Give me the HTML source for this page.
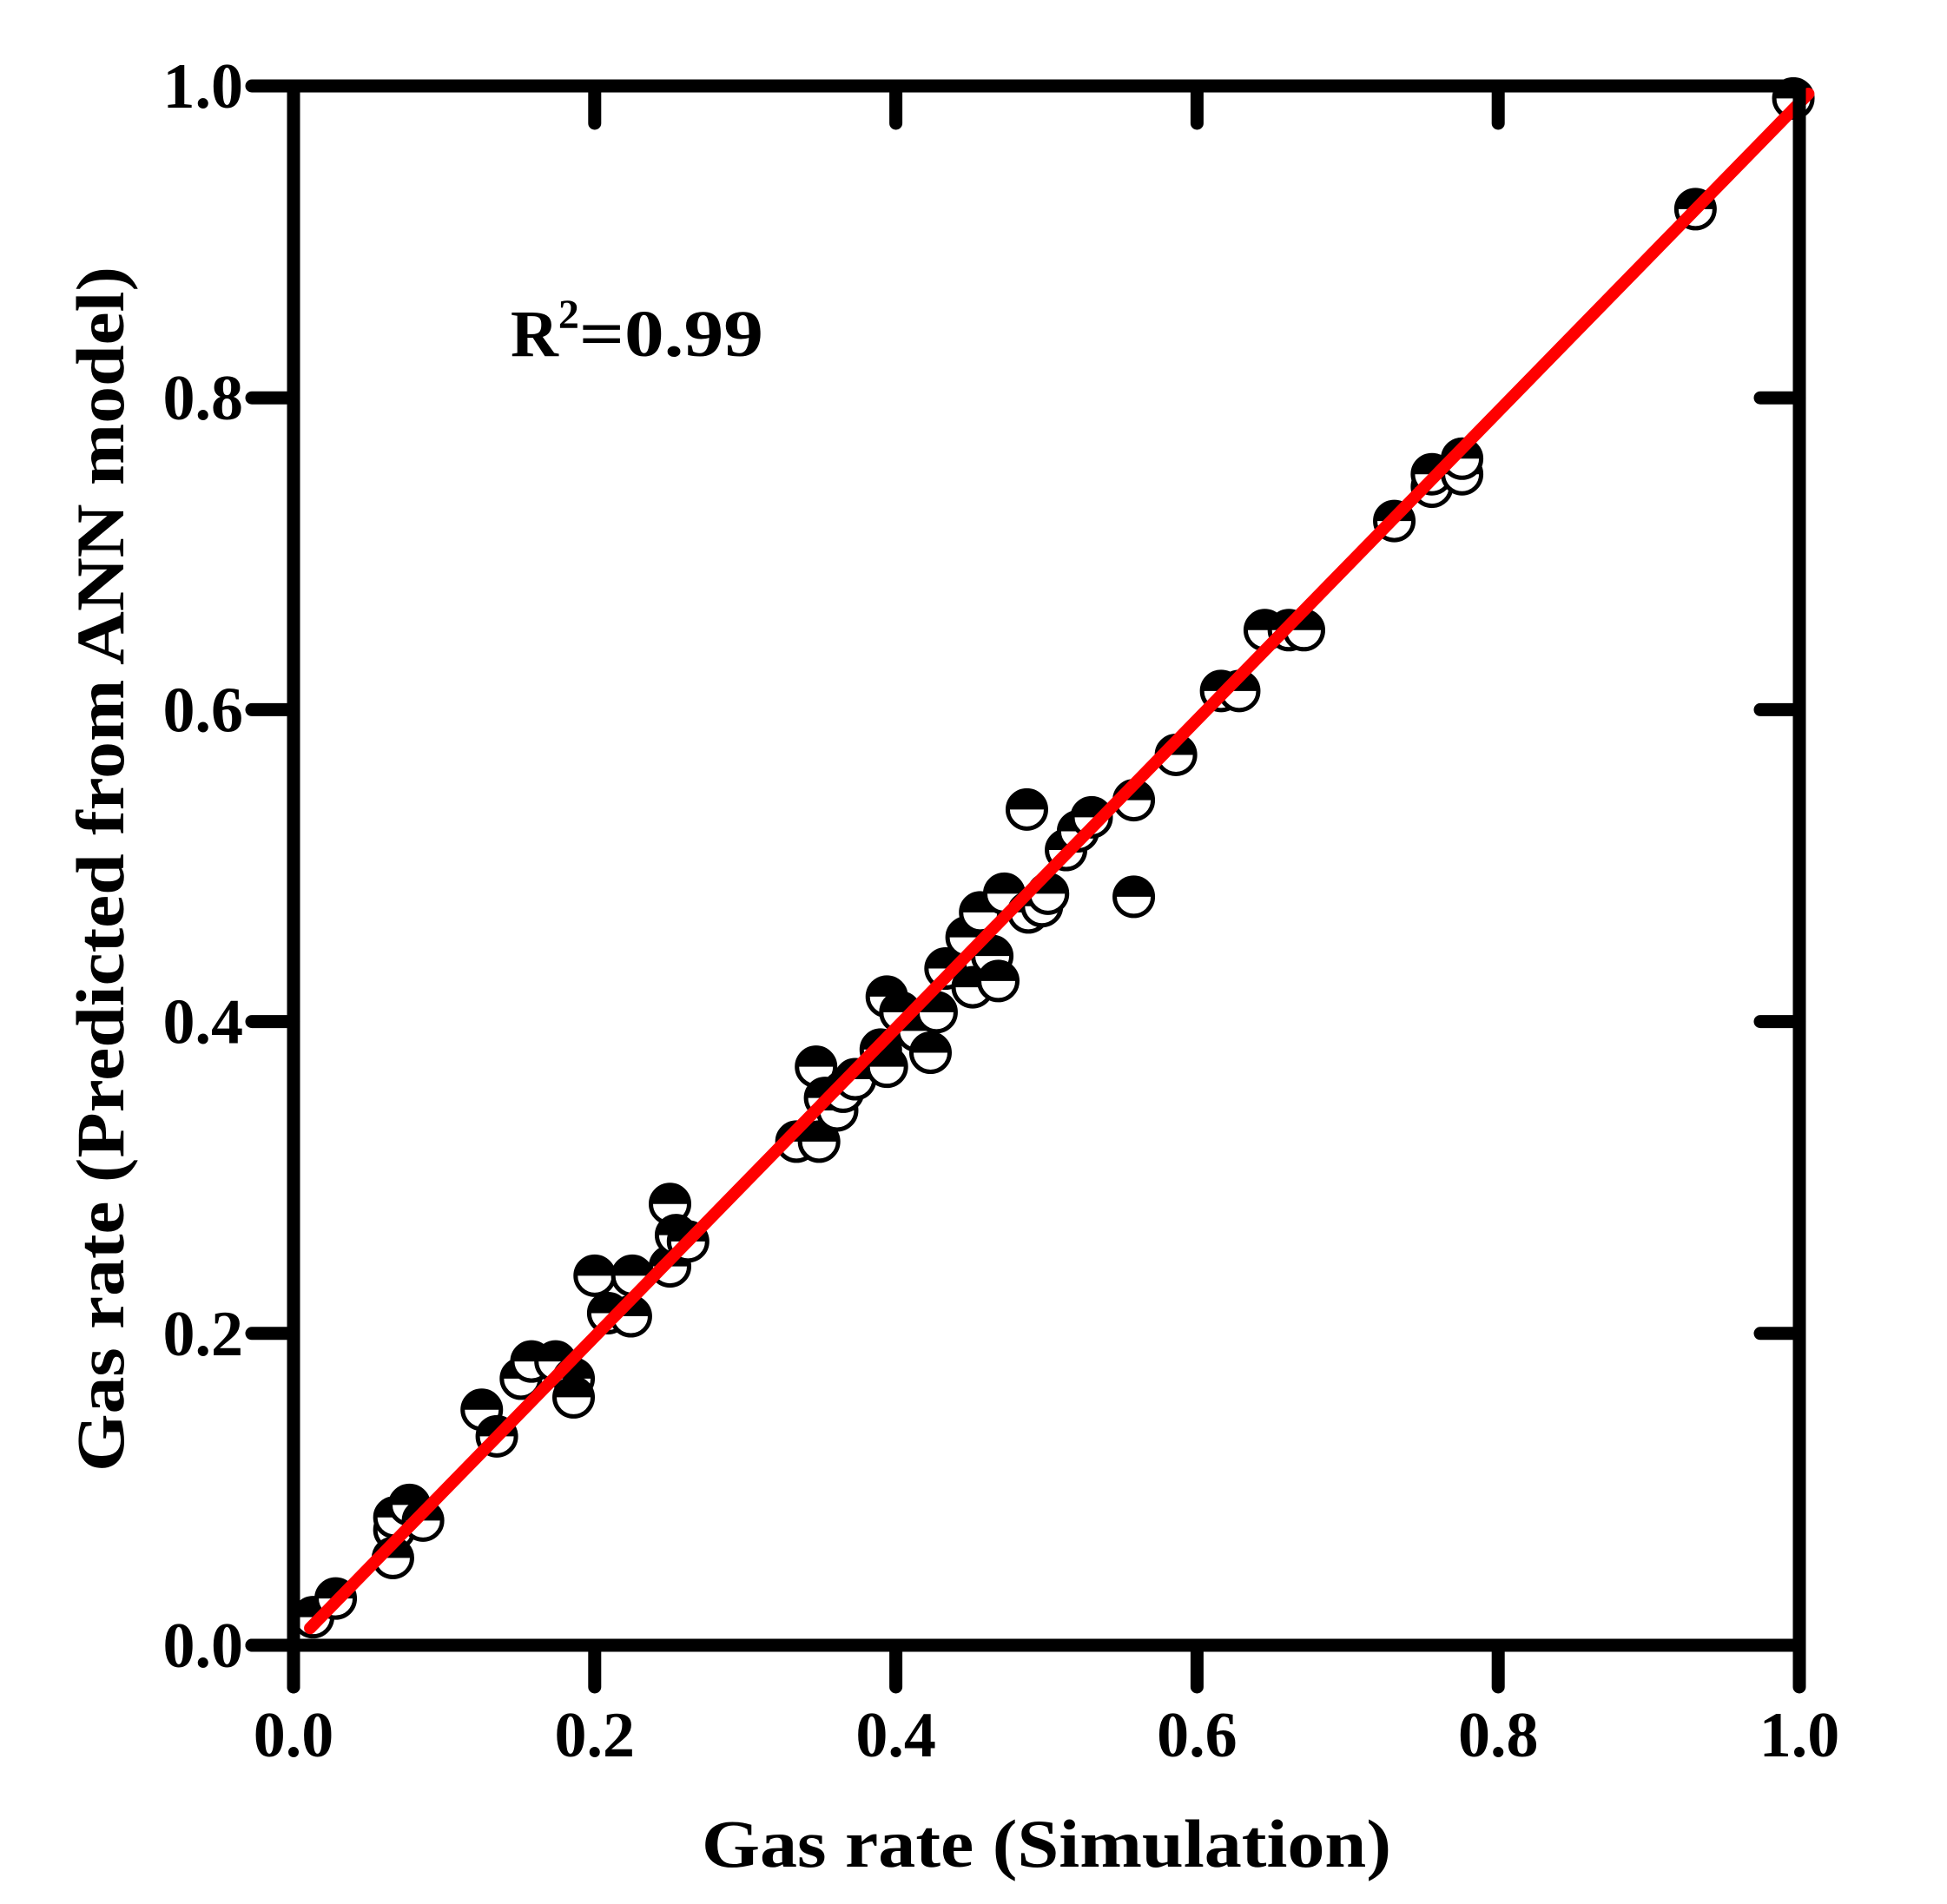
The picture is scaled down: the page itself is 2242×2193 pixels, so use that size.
<!DOCTYPE html>
<html><head><meta charset="utf-8">
<style>html,body{margin:0;padding:0;background:#fff;}svg{display:block;}</style></head>
<body>
<svg id="chart" width="2242" height="2193" viewBox="0 0 2242 2193" xmlns="http://www.w3.org/2000/svg">
<rect width="2242" height="2193" fill="#fff"/>
<g id="marks"></g>
<g id="fit"></g>
<g id="axes"></g>
<text x="588" y="410" font-family="Liberation Serif, serif" font-weight="bold" font-size="76">R<tspan dy="-32" font-size="48">2</tspan><tspan dy="32" textLength="212" lengthAdjust="spacingAndGlyphs">=0.99</tspan></text>
<text x="1205" y="2150" text-anchor="middle" font-family="Liberation Serif, serif" font-weight="bold" font-size="78" textLength="794" lengthAdjust="spacingAndGlyphs">Gas rate (Simulation)</text>
<text transform="translate(142,1001) rotate(-90)" text-anchor="middle" font-family="Liberation Serif, serif" font-weight="bold" font-size="78" textLength="1388" lengthAdjust="spacingAndGlyphs">Gas rate (Predicted from ANN model)</text>
</svg>
<script>
const simX = [0.013,0.028,0.067,0.067,0.077,0.086,0.066,0.125,0.135,0.151,0.158,0.174,0.186,0.186,0.2,0.209,0.224,0.225,0.25,0.25,0.254,0.262,0.334,0.349,0.347,0.353,0.361,0.365,0.373,0.39,0.394,0.394,0.403,0.414,0.423,0.427,0.433,0.447,0.451,0.456,0.464,0.468,0.472,0.488,0.497,0.501,0.487,0.513,0.521,0.53,0.558,0.558,0.586,0.616,0.628,0.645,0.661,0.671,0.731,0.756,0.756,0.776,0.776,0.931,0.996];
const annY = [0.018,0.03,0.074,0.082,0.09,0.08,0.056,0.151,0.134,0.171,0.182,0.182,0.171,0.159,0.237,0.213,0.211,0.237,0.283,0.243,0.263,0.259,0.323,0.323,0.371,0.351,0.343,0.355,0.363,0.382,0.371,0.416,0.406,0.394,0.38,0.406,0.434,0.454,0.422,0.47,0.442,0.426,0.482,0.47,0.474,0.482,0.536,0.51,0.522,0.531,0.542,0.48,0.571,0.612,0.612,0.651,0.651,0.651,0.721,0.743,0.751,0.751,0.761,0.921,0.992];
const fitX = [0.011,1.006];
const fitY = [0.011,0.995];
const ticks = [0,0.2,0.4,0.6,0.8,1.0];
const tickLabels = ["0.0","0.2","0.4","0.6","0.8","1.0"];

const X0=338,X1=2072,Y0=1895,Y1=99;
const sx=v=>X0+(X1-X0)*v;
const sy=v=>Y0-(Y0-Y1)*v;
const NS="http://www.w3.org/2000/svg";
function mk(tag,attrs,parent){const e=document.createElementNS(NS,tag);for(const k in attrs)e.setAttribute(k,attrs[k]);parent.appendChild(e);return e;}

const marks=document.getElementById('marks');
const R=22;
for(let i=0;i<simX.length;i++){
  const cx=sx(simX[i]),cy=sy(annY[i]);
  const g=mk('g',{},marks);
  
  
  mk('circle',{cx:cx,cy:cy,r:R,fill:'#fff',stroke:'#000','stroke-width':5},g);
  mk('path',{d:`M${cx-R} ${cy} A${R} ${R} 0 0 1 ${cx+R} ${cy} Z`,fill:'#000'},g);
}

const fit=document.getElementById('fit');
const fl=mk('line',{x1:sx(fitX[0]),y1:sy(fitY[0]),x2:sx(fitX[1]),y2:sy(fitY[1]),stroke:'#ff0000','stroke-width':14,'stroke-linecap':'round'},fit);



const axes=document.getElementById('axes');
const lw=15;
const st={stroke:'#000','stroke-width':lw,'stroke-linecap':'round'};
function line(x1,y1,x2,y2,name){const l=mk('line',Object.assign({x1,y1,x2,y2},st),axes);return l;}
line(X0,Y1,X0,Y0+48,'y-axis-left');
line(X0-48,Y0,X1,Y0,'x-axis-bottom');
line(X0,Y1,X1,Y1,'top-frame');
line(X1,Y1,X1,Y0,'right-frame');
ticks.forEach((t,i)=>{
  line(X0-48,sy(t),X0,sy(t),'y-tick');
  line(X1-45,sy(t),X1,sy(t),'y-tick-right');
  line(sx(t),Y0,sx(t),Y0+48,'x-tick');
  line(sx(t),Y1,sx(t),Y1+43,'x-tick-top');
  const yl=mk('text',{x:280,y:sy(t)+25,'text-anchor':'end','font-family':'Liberation Serif, serif','font-weight':'bold','font-size':74},axes);
  yl.textContent=tickLabels[i];
  
  
  const xl=mk('text',{x:sx(t),y:2023,'text-anchor':'middle','font-family':'Liberation Serif, serif','font-weight':'bold','font-size':74},axes);
  xl.textContent=tickLabels[i];
  
  
});
</script>
</body></html>
